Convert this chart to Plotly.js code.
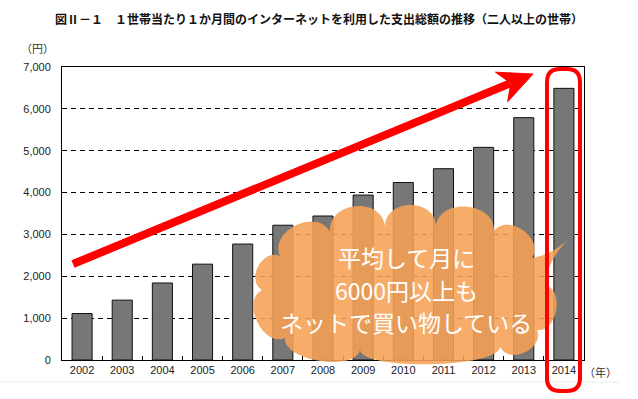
<!DOCTYPE html>
<html>
<head>
<meta charset="utf-8">
<script src="https://cdn.plot.ly/plotly-3.0.1.min.js"></script>
<style>html,body{margin:0;padding:0;background:#fff;}#chart{width:638px;height:399px;}</style>
</head>
<body>
<div id="chart"></div>
<script>
// ---- data ----
const years = ['2002','2003','2004','2005','2006','2007','2008','2009','2010','2011','2012','2013','2014'];
const spending = [1110, 1430, 1840, 2290, 2770, 3220, 3440, 3940, 4240, 4570, 5080, 5790, 6490];
const yTicks = [0, 1000, 2000, 3000, 4000, 5000, 6000, 7000];
const titleText = '図Ⅱ－１　１世帯当たり１か月間のインターネットを利用した支出総額の推移（二人以上の世帯）';
const calloutLines = ['平均して月に', '6000円以上も', 'ネットで買い物している'];

// ---- geometry helpers (pixel -> paper) ----
const W = 638, H = 399, ML = 62, MR = 54, MT = 67, MB = 39;
const PW = W - ML - MR, PH = H - MT - MB;
function px(x){ return (x - ML) / PW; }
function py(y){ return (H - MB - y) / PH; }
function pt(p){ return px(p[0]).toFixed(4) + ',' + py(p[1]).toFixed(4); }

// cloud outline
function cloudPath(){
  const segs = [
    {p:[262,290]},
    {p:[280,256], f:0.5},
    {p:[330,232], f:0.5},
    {p:[385,226], f:0.55},
    {p:[436,226], f:0.55},
    {p:[494,231], f:0.5},
    {p:[532,258], f:0.5},
    {p:[570,238], line:true, ctrl:[552,255]},
    {p:[545,285], line:true, ctrl:[548,258]},
    {p:[537,330], f:0.45},
    {p:[500,347], f:0.5},
    {p:[360,350], f:0.15},
    {p:[285,338], f:0.3},
    {p:[262,290], f:0.45}
  ];
  let d = 'M' + pt(segs[0].p);
  for (let i = 1; i < segs.length; i++){
    const A = segs[i-1].p, B = segs[i].p, s = segs[i];
    if (s.line){
      d += 'Q' + pt(s.ctrl) + ' ' + pt(B);
      continue;
    }
    const dx = B[0]-A[0], dy = B[1]-A[1], L = Math.hypot(dx,dy);
    const nx = dy / L, ny = -dx / L, h = s.f * L;
    const c1 = [A[0] + dx*0.02 + nx*h, A[1] + dy*0.02 + ny*h];
    const c2 = [A[0] + dx*0.98 + nx*h, A[1] + dy*0.98 + ny*h];
    d += 'C' + pt(c1) + ' ' + pt(c2) + ' ' + pt(B);
  }
  return d + 'Z';
}

// rounded rect around 2014
function roundRect(x0,y0,x1,y1,r){
  return 'M' + pt([x0+r,y0]) + 'L' + pt([x1-r,y0]) + 'Q' + pt([x1,y0]) + ' ' + pt([x1,y0+r]) +
    'L' + pt([x1,y1-r]) + 'Q' + pt([x1,y1]) + ' ' + pt([x1-r,y1]) +
    'L' + pt([x0+r,y1]) + 'Q' + pt([x0,y1]) + ' ' + pt([x0,y1-r]) +
    'L' + pt([x0,y0+r]) + 'Q' + pt([x0,y0]) + ' ' + pt([x0+r,y0]) + 'Z';
}

// arrow
const tail = [73,264], tip = [533,74];
const adx = tip[0]-tail[0], ady = tip[1]-tail[1], aL = Math.hypot(adx,ady);
const ux = adx/aL, uy = ady/aL, nx = -uy, ny = ux;
const headLen = 34, headHalf = 16, notch = 24;
const baseC = [tip[0]-ux*headLen, tip[1]-uy*headLen];
const notchP = [tip[0]-ux*notch, tip[1]-uy*notch];
const wing1 = [baseC[0]+nx*headHalf, baseC[1]+ny*headHalf];
const wing2 = [baseC[0]-nx*headHalf, baseC[1]-ny*headHalf];
const lineEnd = [tip[0]-ux*(notch+1), tip[1]-uy*(notch+1)];

const shapes = [
  {type:'line', xref:'paper', yref:'paper', x0:px(0), x1:px(620), y0:py(382), y1:py(382),
   line:{color:'#ececec', width:1}},
  {type:'path', xref:'paper', yref:'paper', path:cloudPath(),
   fillcolor:'rgb(246,162,84)', opacity:0.88, line:{width:0}},
  {type:'path', xref:'paper', yref:'paper', path:roundRect(547,69,580,391,13),
   fillcolor:'rgba(0,0,0,0)', line:{color:'#ff0000', width:4}},
  {type:'line', xref:'paper', yref:'paper', x0:px(tail[0]), y0:py(tail[1]), x1:px(lineEnd[0]), y1:py(lineEnd[1]),
   line:{color:'#ff0000', width:8}},
  {type:'path', xref:'paper', yref:'paper',
   path:'M'+pt(tip)+'L'+pt(wing1)+'L'+pt(notchP)+'L'+pt(wing2)+'Z',
   fillcolor:'#ff0000', line:{color:'#ff0000', width:1}}
];

const lineY = [257, 290, 322];
const annotations = calloutLines.map((t,i)=>({
  text:t, xref:'paper', yref:'paper', x:px(406), y:py(lineY[i]), xanchor:'center', yanchor:'middle',
  showarrow:false, font:{family:'Noto Sans CJK JP', size:23, color:'#ffffff'}
}));
annotations.push({text:'（円）', xref:'paper', yref:'paper', x:px(37), y:py(48), xanchor:'center', yanchor:'middle',
  showarrow:false, font:{family:'Noto Sans CJK JP', size:11, color:'#333'}});
annotations.push({text:'（年）', xref:'paper', yref:'paper', x:px(600), y:py(372), xanchor:'center', yanchor:'middle',
  showarrow:false, font:{family:'Noto Sans CJK JP', size:11, color:'#333'}});

const trace = {
  type:'bar', x:years, y:spending,
  marker:{color:'#777777', line:{color:'#111111', width:1}},
  hoverinfo:'skip'
};

const layout = {
  width:W, height:H,
  margin:{l:ML, r:MR, t:MT, b:MB, pad:0},
  paper_bgcolor:'#ffffff', plot_bgcolor:'#ffffff',
  showlegend:false,
  bargap:0.5,
  title:{text:titleText, xref:'container', yref:'container', x:0.5, xanchor:'center', y:1-20/H, yanchor:'middle',
    font:{family:'Noto Sans CJK JP', size:12, weight:700, color:'#111'}},
  xaxis:{type:'category', showline:true, linecolor:'#000', linewidth:1, mirror:true,
    ticks:'inside', tickson:'boundaries', ticklen:4, tickcolor:'#000', showgrid:false,
    tickfont:{family:'Liberation Sans, Arial', size:11, color:'#222'}, fixedrange:true},
  yaxis:{range:[0,7000], tickvals:yTicks, tickformat:',d', showline:true, linecolor:'#000', linewidth:1, mirror:true,
    showgrid:true, gridcolor:'#000', gridwidth:1, griddash:'5px,4px', zeroline:false, ticks:'',
    ticklabelstandoff:8,
    tickfont:{family:'Liberation Sans, Arial', size:11, color:'#222'}, fixedrange:true},
  shapes:shapes,
  annotations:annotations
};

Plotly.newPlot('chart', [trace], layout, {displayModeBar:false, staticPlot:true});
</script>
</body>
</html>
